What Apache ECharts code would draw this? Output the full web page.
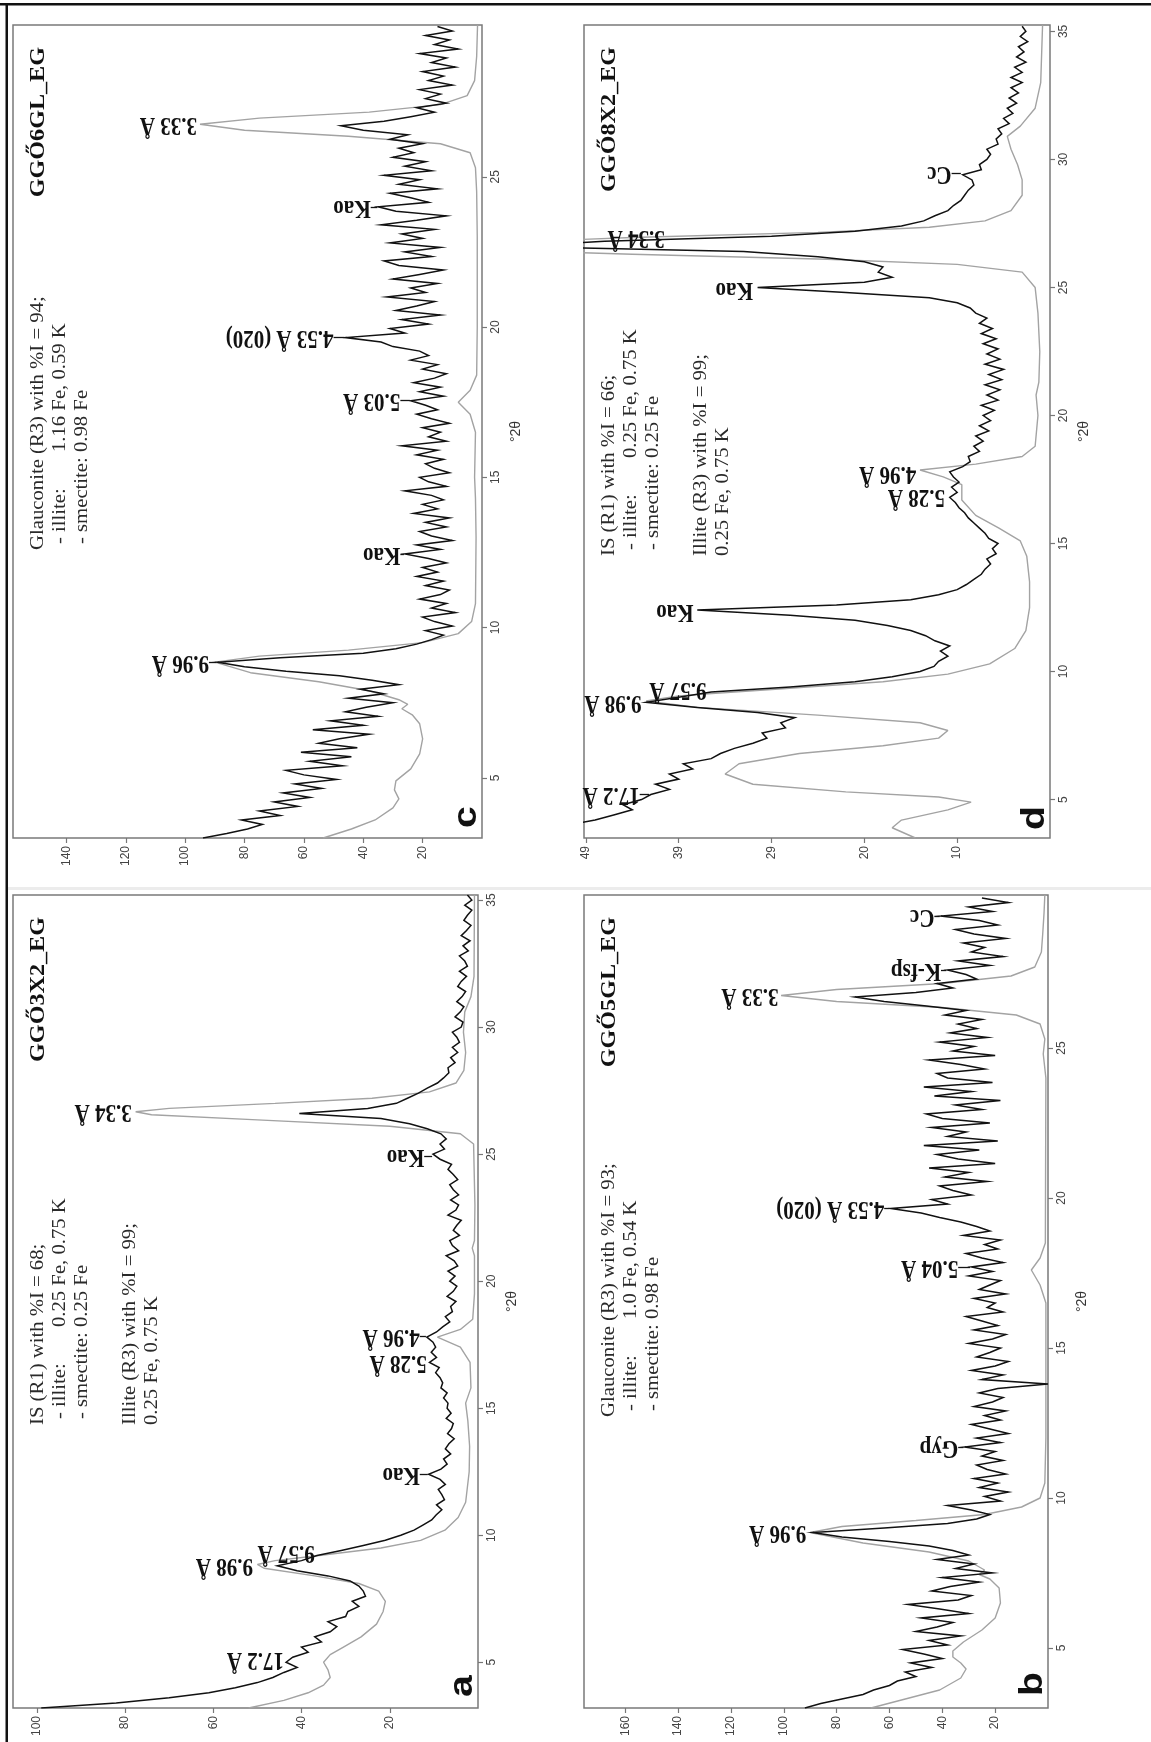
<!DOCTYPE html>
<html>
<head>
<meta charset="utf-8">
<title>XRD patterns, ethylene-glycol solvated clay fractions</title>
<script src="https://cdn.jsdelivr.net/npm/echarts@6/dist/echarts.min.js"></script>
<style>
  html, body { margin: 0; padding: 0; background: #ffffff; }
  #chart { width: 1151px; height: 1742px; }
</style>
</head>
<body>
<div id="chart"></div>
<script>
// ---------------- measured scans ----------------
const scanA = { start: 3.2, step: 0.2 };
const obsA = [
  99, 82, 70, 61, 55, 50, 46.5, 44, 41, 43.5,
  42, 38.5, 40, 35.5, 37, 33.5, 32, 34, 30, 29.5,
  27, 28.5, 25.5, 26, 27, 29, 34, 41, 45.5, 40,
  36.5, 31, 26, 21, 17.5, 14.5, 12.5, 10.5, 9.5, 8.2,
  9.4, 7.6, 8.2, 9, 7.4, 8.6, 11.2, 8.4, 7, 7.8,
  6.2, 7.4, 6.6, 5.4, 6.9, 6, 5.6, 7.2, 6.1, 7,
  6.8, 7.8, 7, 8.4, 8, 8.6, 9.6, 8.8, 11, 9.4,
  10.6, 9.6, 10.2, 11.6, 9.4, 8, 6.4, 7.4, 5.8, 6.2,
  5, 7, 5.6, 4.8, 6.4, 5.2, 6.8, 4.6, 5.4, 7.2,
  4.4, 5.8, 6.4, 4.2, 5.6, 4.8, 3.8, 6.8, 5, 4.4,
  6.2, 4.4, 5.6, 6.4, 4.6, 5.6, 6.8, 6, 8.6, 10.2,
  7.6, 8.6, 7.2, 8.4, 11.5, 15.5, 22, 40.5, 25, 18.5,
  16, 13.5, 11.5, 9.2, 7.8, 6.6, 6.8, 5.2, 6.2, 4.6,
  5.8, 4.2, 4.8, 5.8, 3.8, 3.4, 5.2, 4, 3.2, 4.8,
  3.6, 2.8, 4.6, 3.8, 2.6, 4.2, 2.4, 3, 4.2, 2.2,
  3.4, 1.8, 3.8, 2.6, 1.6, 3.2, 2.4, 1.4, 3, 1.4,
  2.4
];

const scanB = { start: 3.0, step: 0.15 };
const obsB = [
  92, 86, 78, 70, 66, 60, 57, 50, 54, 44,
  52, 40, 47, 55, 38, 45, 33, 50, 42, 36,
  48, 30, 41, 53, 34, 29, 44, 37, 26, 40,
  21, 35, 28, 42, 30, 36, 45, 60, 78, 89,
  62, 38, 27, 22, 29, 38, 18, 24, 15, 26,
  19, 28, 16, 23, 27, 17, 25, 20, 31.5, 18,
  27, 15, 22, 29, 18, 24, 16, 28, 21, 17,
  26, 19, 0, 25, 17, 29, 20, 15, 27, 22,
  18, 30, 21, 16, 28, 19, 25, 31, 17, 23,
  20, 28, 16, 26, 22, 18, 30, 21, 29, 17,
  25, 31, 19, 24, 18, 32, 22, 27, 33, 41,
  48, 59.5, 38, 44, 29, 36, 41, 23, 39, 30,
  45, 20, 34, 42, 26, 47, 19, 38, 31, 44,
  22, 40, 46, 25, 35, 18, 43, 29, 47, 21,
  38, 42, 24, 33, 45, 20, 36, 28, 41, 23,
  37, 27, 34, 25, 39, 31, 46, 62, 73, 50,
  36, 42, 27, 31, 38, 22, 34, 17, 29, 24,
  32, 16, 28, 35, 19, 26, 40.5, 21, 30, 15,
  25
];

const scanC = { start: 3.0, step: 0.15 };
const obsC = [
  94, 86, 79, 74, 81, 68, 75, 62, 70, 58,
  67, 54, 63, 49, 60, 66, 47, 58, 44, 61,
  42, 55, 48, 38, 57, 40, 51, 35, 46, 39,
  30, 45, 33, 41, 28, 37, 48, 66, 80, 89,
  68, 40, 29, 22, 17, 13, 19, 10, 16, 20,
  9, 17, 12, 21, 14, 11, 19, 13, 22, 15,
  20, 12, 18, 26, 14, 22, 10, 17, 21, 12,
  19, 11, 23, 15, 20, 13, 17, 26, 12, 18,
  21, 11, 16, 19, 13, 22, 15, 27, 12, 18,
  14, 20, 11, 17, 22, 15, 19, 24, 13, 21,
  14, 23, 16, 12, 20, 15, 24, 18, 21, 30,
  34, 46, 26, 31, 18, 27, 14, 29, 22, 16,
  32, 19, 24, 15, 30, 21, 13, 28, 33, 17,
  26, 14, 31, 20, 27, 16, 34, 22, 12, 29,
  35, 18, 24, 31, 15, 28, 21, 33, 17, 26,
  19, 30, 23, 28, 20, 31, 25, 40, 47.5, 33,
  24, 16, 22, 12, 19, 14, 21, 10, 18, 13,
  20, 9, 17, 12, 21, 8, 16, 11, 19, 10,
  15
];

const scanD = { start: 3.6, step: 0.2 };
const obsD = [
  58, 55, 52, 49, 47, 45, 46, 44, 43, 41,
  42.5, 40, 41, 38.5, 39.5, 36.5, 35.5, 34, 32, 30.5,
  31, 28.5, 29, 27.5, 31.5, 38, 43.5, 40, 36.5, 28,
  21, 17, 14, 12.5, 12, 11, 11.8, 10.8, 12.4, 13.4,
  15, 17.5, 21, 28, 38, 23, 15, 12, 10, 9,
  8.2, 7.4, 7, 6.4, 6.8, 5.8, 6.2, 5.6, 6.6, 7,
  7.6, 8.2, 8.8, 9.2, 9.8, 10.2, 10.8, 10, 10.6, 9.8,
  10.4, 10.8, 9.4, 8.6, 8.8, 7.6, 8.2, 7.2, 8, 6.6,
  7.6, 6.4, 7.2, 6, 7.4, 5.6, 6.8, 5.4, 7, 5.2,
  6.6, 5, 7, 5.4, 6.8, 5.6, 7.2, 5.8, 7.4, 6.2,
  7.6, 6.8, 8, 8.6, 10, 13, 22, 31.5, 20, 17,
  18.5, 18, 20, 25, 33, 58, 48, 30, 21, 16,
  13.6, 12.4, 11, 10.4, 9.6, 9.2, 8.8, 8.2, 8.4, 9.4,
  7.4, 7.6, 6.8, 6.4, 6.8, 5.6, 5.8, 5.2, 5.6, 4.4,
  5, 4, 4.6, 3.6, 4.4, 3.4, 4.2, 3, 4.2, 3,
  3.8, 2.6, 3.6, 2.8, 3.4, 2.4, 3.2, 2.6, 3
];

// ---------------- calculated patterns [°2θ, intensity] ----------------
const calcA = [[3.2,52],[3.5,44],[3.8,38.5],[4.1,35],[4.4,33.5],[4.7,34],[5.0,35],[5.3,33.5],[5.6,30.5],[6.0,26.5],[6.5,23],[7.0,21.5],[7.4,21],[7.8,22.5],[8.1,27],[8.4,37],[8.7,48.5],[8.85,50],[9.0,46],[9.2,36],[9.5,22],[9.8,13],[10.2,7.5],[10.7,4.5],[11.3,2.8],[12.5,2],[13.5,1.9],[14.5,2.3],[15.2,2.8],[15.8,1.6],[16.8,1.8],[17.4,4],[17.8,9.2],[18.1,4],[18.5,1.2],[19.5,0.8],[21.0,0.8],[21.3,1.3],[21.6,0.8],[23.0,0.7],[25.4,1.0],[25.8,4],[26.1,20],[26.35,50],[26.55,74],[26.67,77.6],[26.8,70],[27.0,46],[27.2,24],[27.45,11],[27.8,5],[28.3,3.2],[29.0,2.8],[29.8,3.3],[30.6,3.0],[31.2,1.6],[32.0,0.9],[35.2,0.8]];
const calcB = [[3.0,67],[3.3,54],[3.6,41],[4.0,33],[4.3,31],[4.5,33],[4.7,36],[4.9,36],[5.2,32],[5.6,25],[6.0,20],[6.5,18],[7.0,18.5],[7.3,22],[7.45,26],[7.6,24],[7.9,30],[8.2,45],[8.5,70],[8.85,90],[9.05,78],[9.25,50],[9.45,24],[9.7,10],[10.0,3],[10.5,1.2],[12.0,0.8],[16.5,0.8],[17.1,3],[17.6,6.3],[18.0,3],[18.5,1],[24.0,0.8],[24.8,1.8],[25.3,1.2],[25.8,3],[26.1,12],[26.35,40],[26.55,80],[26.75,101],[26.95,80],[27.15,40],[27.4,14],[27.7,5],[28.2,2.5],[28.8,2],[29.5,1.5],[30.1,1.2]];
const calcC = [[3.0,53.5],[3.3,44],[3.6,36],[4.0,30],[4.3,28],[4.6,29.5],[4.9,29],[5.3,24],[5.8,21],[6.3,20],[6.8,21],[7.1,23.5],[7.3,27],[7.45,25],[7.6,28],[7.9,38],[8.2,55],[8.5,78],[8.85,90],[9.05,75],[9.25,45],[9.5,20],[9.8,8],[10.2,3.5],[10.8,2.2],[13.0,2],[14.3,2.2],[15.0,2.5],[16.5,2.2],[17.1,4],[17.5,8],[17.9,4],[18.4,1.8],[20.0,1.6],[23.0,1.6],[24.5,1.8],[25.3,2.2],[25.8,4],[26.1,14],[26.35,45],[26.55,80],[26.75,95],[26.95,75],[27.15,38],[27.4,14],[27.7,5],[28.2,2.5],[29.0,1.8],[30.05,1.5]];
const calcD = [[3.5,14.5],[3.9,17],[4.2,16],[4.6,11],[4.9,8.5],[5.1,12],[5.3,22],[5.6,32],[6.0,35],[6.4,33.5],[6.8,27],[7.1,18],[7.4,12],[7.7,11],[8.0,14],[8.3,25],[8.6,38],[8.85,43.5],[9.05,40],[9.3,30],[9.6,18],[9.9,11],[10.3,6.5],[10.9,3.8],[11.6,2.6],[12.5,2.2],[13.5,2.2],[14.5,2.5],[15.1,3.2],[15.6,5.5],[16.1,8],[16.7,9.5],[17.3,9.5],[17.6,11.5],[17.87,14],[18.1,8],[18.4,3],[18.8,1.6],[20.0,1.3],[20.8,1.5],[21.3,1.2],[22.5,1.1],[24.0,1.3],[25.0,1.6],[25.6,3],[25.9,10],[26.1,24],[26.3,45],[26.45,60],[26.75,60],[26.95,45],[27.15,25],[27.35,13],[27.6,7],[28.0,4.2],[28.6,3],[29.2,3],[29.8,3.5],[30.4,4.2],[30.9,4.6],[31.3,3.2],[32.0,1.6],[33.0,1],[35.25,0.8]];

// ---------------- axes ----------------
const ttRangeA = [3.2, 35.2], ttRangeB = [3.0, 30.1], ttRangeC = [3.0, 30.05], ttRangeD = [3.5, 35.25];
const ttTicksA = [5, 10, 15, 20, 25, 30, 35];
const ttTicksB = [5, 10, 15, 20, 25];
const ttTicksC = [5, 10, 15, 20, 25];
const ttTicksD = [5, 10, 15, 20, 25, 30, 35];
const intMaxA = 105.4, intMaxB = 175.6, intMaxC = 158, intMaxD = 50.2;
const intTicksA = [20, 40, 60, 80, 100];
const intTicksB = [20, 40, 60, 80, 100, 120, 140, 160];
const intTicksC = [20, 40, 60, 80, 100, 120, 140];
const intTicksD = [10, 20, 30, 40, 50];
const intLabelsD = ['10', '20', '29', '39', '49'];

// ---------------- texts ----------------
const titleA = 'GGŐ3X2_EG', titleB = 'GGŐ5GL_EG', titleC = 'GGŐ6GL_EG', titleD = 'GGŐ8X2_EG';
const notesA = [
  { row: 0, indent: 0, text: 'IS (R1) with %I = 68;' },
  { row: 1, indent: 6, text: '- illite:', value: '0.25 Fe, 0.75 K' },
  { row: 2, indent: 6, text: '- smectite: 0.25 Fe' },
  { row: 4.2, indent: 0, text: 'Illite (R3) with %I = 99;' },
  { row: 5.2, indent: 0, text: '0.25 Fe, 0.75 K' }
];
const notesB = [
  { row: 0, indent: 0, text: 'Glauconite (R3) with %I = 93;' },
  { row: 1, indent: 6, text: '- illite:', value: '1.0 Fe, 0.54 K' },
  { row: 2, indent: 6, text: '- smectite: 0.98 Fe' }
];
const notesC = [
  { row: 0, indent: 0, text: 'Glauconite (R3) with %I = 94;' },
  { row: 1, indent: 6, text: '- illite:', value: '1.16 Fe, 0.59 K' },
  { row: 2, indent: 6, text: '- smectite: 0.98 Fe' }
];
const notesD = [
  { row: 0, indent: 0, text: 'IS (R1) with %I = 66;' },
  { row: 1, indent: 6, text: '- illite:', value: '0.25 Fe, 0.75 K' },
  { row: 2, indent: 6, text: '- smectite: 0.25 Fe' },
  { row: 4.2, indent: 0, text: 'Illite (R3) with %I = 99;' },
  { row: 5.2, indent: 0, text: '0.25 Fe, 0.75 K' }
];

// reflection labels: position (°2θ), label start intensity, optional leader start
const peaksA = [
  { text: '17.2 Å', tt: 5.13, at: 44 },
  { text: '9.98 Å', tt: 8.83, at: 51 },
  { text: '9.57 Å', tt: 9.35, at: 37 },
  { text: 'Kao', tt: 12.4, at: 13.2, from: 11.4 },
  { text: '5.28 Å', tt: 16.8, at: 11.6 },
  { text: '4.96 Å', tt: 17.85, at: 13.2, from: 11.8 },
  { text: 'Kao', tt: 24.9, at: 12.2, from: 10.4 },
  { text: '3.34 Å', tt: 26.7, at: 78.5 }
];
const peaksB = [
  { text: '9.96 Å', tt: 8.85, at: 91.5 },
  { text: 'Gyp', tt: 11.7, at: 34, from: 32 },
  { text: '5.04 Å', tt: 17.7, at: 34, from: 29.5 },
  { text: '4.53 Å (020)', tt: 19.65, at: 62, from: 60 },
  { text: '3.33 Å', tt: 26.75, at: 102 },
  { text: 'K-fsp', tt: 27.6, at: 40.5, from: 38.5 },
  { text: 'Cc', tt: 29.4, at: 43, from: 41 }
];
const peaksC = [
  { text: '9.96 Å', tt: 8.85, at: 92, from: 89.5 },
  { text: 'Kao', tt: 12.45, at: 27.5, from: 26.3 },
  { text: '5.03 Å', tt: 17.55, at: 27.5, from: 24.3 },
  { text: '4.53 Å (020)', tt: 19.65, at: 50, from: 46.3 },
  { text: 'Kao', tt: 24.0, at: 37.5, from: 35.3 },
  { text: '3.33 Å', tt: 26.75, at: 96 }
];
const peaksD = [
  { text: '17.2 Å', tt: 5.2, at: 44.2, from: 43.2 },
  { text: '9.98 Å', tt: 8.8, at: 44 },
  { text: '9.57 Å', tt: 9.3, at: 37 },
  { text: 'Kao', tt: 12.35, at: 38.4 },
  { text: '5.28 Å', tt: 16.85, at: 11.3 },
  { text: '4.96 Å', tt: 17.75, at: 14.4 },
  { text: 'Kao', tt: 24.95, at: 32 },
  { text: '3.34 Å', tt: 26.95, at: 41.5 },
  { text: 'Cc', tt: 29.45, at: 10.6, from: 9.6 }
];

// ---------------- layout ----------------
const STRETCH = 1.15;
const SERIF = '"Liberation Serif", "Times New Roman", serif';
const SANS = '"Liberation Sans", Arial, sans-serif';

const panels = [
  { key: 'a', frame: { left: 13, top: 895, width: 465, height: 813 }, ttRange: ttRangeA, ttTicks: ttTicksA,
    intMax: intMaxA, intTicks: intTicksA, intLabels: null, scan: scanA, obs: obsA, calc: calcA,
    title: titleA, notes: notesA, peaks: peaksA, noteStart: 283, letterInset: 11 },
  { key: 'b', frame: { left: 584, top: 895, width: 464, height: 813 }, ttRange: ttRangeB, ttTicks: ttTicksB,
    intMax: intMaxB, intTicks: intTicksB, intLabels: null, scan: scanB, obs: obsB, calc: calcB,
    title: titleB, notes: notesB, peaks: peaksB, noteStart: 291, letterInset: 12 },
  { key: 'c', frame: { left: 13, top: 25, width: 469, height: 813 }, ttRange: ttRangeC, ttTicks: ttTicksC,
    intMax: intMaxC, intTicks: intTicksC, intLabels: null, scan: scanC, obs: obsC, calc: calcC,
    title: titleC, notes: notesC, peaks: peaksC, noteStart: 288, letterInset: 10 },
  { key: 'd', frame: { left: 584, top: 25, width: 466, height: 813 }, ttRange: ttRangeD, ttTicks: ttTicksD,
    intMax: intMaxD, intTicks: intTicksD, intLabels: intLabelsD, scan: scanD, obs: obsD, calc: calcD,
    title: titleD, notes: notesD, peaks: peaksD, noteStart: 282, letterInset: 8 }
];

function tickFormatter(p) {
  return function (v) {
    if (p.intLabels) {
      const k = p.intTicks.indexOf(v);
      return k >= 0 ? p.intLabels[k] : '';
    }
    return String(v);
  };
}

const option = {
  animation: false,
  backgroundColor: '#ffffff',
  textStyle: { fontFamily: SANS },
  grid: panels.map(p => ({
    left: p.frame.left, top: p.frame.top, width: p.frame.width, height: p.frame.height,
    show: true, borderColor: '#7a7a7a', borderWidth: 1.5, backgroundColor: 'rgba(0,0,0,0)'
  })),
  xAxis: panels.map((p, i) => ({
    gridIndex: i, type: 'value', inverse: true, position: 'bottom', min: 0, max: p.intMax,
    axisLine: { show: false }, splitLine: { show: false },
    axisTick: { show: true, length: 5, customValues: p.intTicks, lineStyle: { color: '#777', width: 1.2 } },
    axisLabel: { show: true, customValues: p.intTicks, rotate: 90, margin: 8, fontSize: 12,
                 color: '#444', fontFamily: SANS, formatter: tickFormatter(p) }
  })),
  yAxis: panels.map((p, i) => ({
    gridIndex: i, type: 'value', position: 'right', min: p.ttRange[0], max: p.ttRange[1],
    axisLine: { show: false }, splitLine: { show: false },
    axisTick: { show: true, length: 5, customValues: p.ttTicks, lineStyle: { color: '#777', width: 1.2 } },
    axisLabel: { show: true, customValues: p.ttTicks, rotate: 90, margin: 8, fontSize: 12,
                 color: '#444', fontFamily: SANS },
    name: '°2θ', nameLocation: 'middle', nameRotate: 90, nameGap: 27,
    nameTextStyle: { fontSize: 14, color: '#333', fontFamily: SANS }
  })),
  series: panels.flatMap((p, i) => [
    {
      type: 'line', name: 'calculated ' + p.key, xAxisIndex: i, yAxisIndex: i,
      data: p.calc.map(d => [d[1], d[0]]),
      symbol: 'none', silent: true, z: 2,
      lineStyle: { color: '#a3a3a3', width: 1.4 }
    },
    {
      type: 'line', name: 'measured ' + p.key, xAxisIndex: i, yAxisIndex: i,
      data: p.obs.map((v, k) => [v, +(p.scan.start + k * p.scan.step).toFixed(2)]),
      symbol: 'none', silent: true, z: 3,
      lineStyle: { color: '#111111', width: 1.5, join: 'miter' },
      markLine: {
        silent: true, symbol: 'none', animation: false, label: { show: false },
        lineStyle: { color: '#141414', width: 1.3, type: 'solid' },
        data: p.peaks.filter(q => q.from != null).map(q => [{ coord: [q.from, q.tt] }, { coord: [q.at, q.tt] }])
      }
    }
  ])
};

const chart = echarts.init(document.getElementById('chart'), null, { renderer: 'canvas' });
chart.setOption(option);

// ---------------- rotated texts ----------------
const measureCtx = document.createElement('canvas').getContext('2d');
function textWidth(str, font) { measureCtx.font = font; return measureCtx.measureText(str).width; }

const NOTE_FONT = '18px ' + SERIF;
function textEl(x, y, rotation, scale, text, font, fill, align, vAlign) {
  const el = {
    type: 'text', x: x, y: y, rotation: rotation, silent: true, z: 20,
    style: { text: text, font: font, fill: fill, align: align, verticalAlign: vAlign,
             textAlign: align, textVerticalAlign: vAlign }
  };
  if (scale.x) el.scaleX = scale.x;
  if (scale.y) el.scaleY = scale.y;
  return el;
}

const graphics = [
  { type: 'rect', silent: true, shape: { x: 0, y: 3, width: 1151, height: 2.5 }, style: { fill: '#111' } },
  { type: 'rect', silent: true, shape: { x: 5.5, y: 3, width: 2.5, height: 1739 }, style: { fill: '#111' } },
  { type: 'rect', silent: true, shape: { x: 8, y: 887, width: 1143, height: 3 }, style: { fill: '#ececec' } }
];

panels.forEach((p, i) => {
  const f = p.frame;
  const right = f.left + f.width, bottom = f.top + f.height;
  graphics.push(textEl(f.left + 15, f.top + 22, Math.PI / 2, { x: STRETCH },
    p.title, 'bold 21px ' + SERIF, '#111', 'right', 'top'));

  const valueOffset = textWidth('- smectite: ', NOTE_FONT) * STRETCH;
  p.notes.forEach(n => {
    const x = f.left + 16 + n.row * 22;
    const y0 = bottom - p.noteStart - n.indent;
    graphics.push(textEl(x, y0, Math.PI / 2, { x: STRETCH }, n.text, NOTE_FONT, '#2a2a2a', 'left', 'top'));
    if (n.value) {
      graphics.push(textEl(x, y0 - valueOffset, Math.PI / 2, { x: STRETCH }, n.value, NOTE_FONT, '#2a2a2a', 'left', 'top'));
    }
  });

  graphics.push(textEl(right + 2, bottom - p.letterInset, Math.PI / 2, { x: STRETCH },
    p.key, 'bold 34px ' + SANS, '#111', 'left', 'bottom'));

  p.peaks.forEach(q => {
    const pt = chart.convertToPixel({ gridIndex: i }, [q.at, q.tt]);
    graphics.push(textEl(pt[0], pt[1], Math.PI, { y: STRETCH }, q.text, 'bold 21px ' + SERIF, '#111', 'left', 'middle'));
  });
});

chart.setOption({ graphic: graphics });
</script>
</body>
</html>
